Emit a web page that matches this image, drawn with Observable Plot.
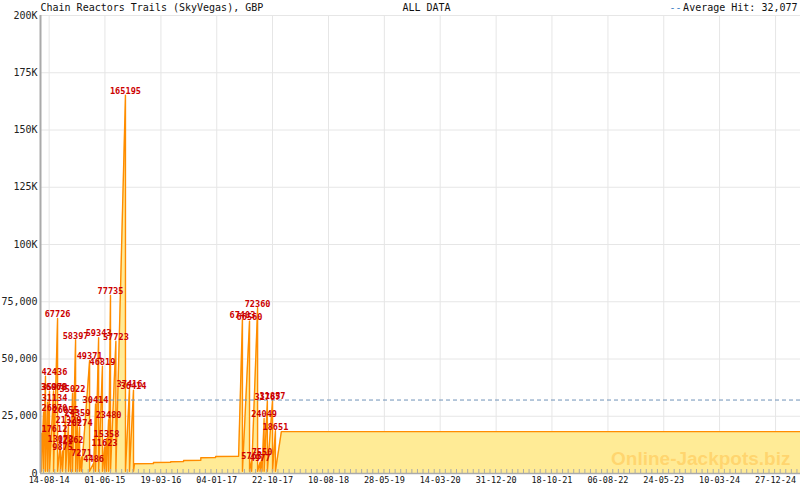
<!DOCTYPE html>
<html><head><meta charset="utf-8">
<script src="https://cdn.jsdelivr.net/npm/d3@7"></script>
<script src="https://cdn.jsdelivr.net/npm/@observablehq/plot@0.6"></script>
<style>
  html,body{margin:0;padding:0;background:#fff}
  #chart svg{display:block}
</style>
</head><body><div id="chart"></div>
<script>
// ---------- data ----------
const titleText = "Chain Reactors Trails (SkyVegas), GBP";
const periodText = "ALL DATA";
const averageLabel = "Average Hit: 32,077";
const averageHit = 32077;
const watermarkText = "Online-Jackpots.biz";

// jackpot hits (date, amount)
const hitDates = [
  "2014-07-05","2014-07-16","2014-07-26","2014-08-06","2014-08-16","2014-09-06","2014-09-27",
  "2014-10-12","2014-10-23","2014-11-08","2014-11-23","2014-12-04","2014-12-14","2014-12-30",
  "2015-01-09","2015-01-20","2015-01-30","2015-03-13","2015-04-03","2015-04-13","2015-04-29",
  "2015-05-19","2015-05-30","2015-06-09","2015-06-20","2015-06-30","2015-07-28","2015-09-16",
  "2015-10-07","2015-10-28",
  "2017-05-18","2017-06-24","2017-07-05","2017-08-05","2017-08-18","2017-08-28","2017-09-08",
  "2017-09-25","2017-10-22","2017-11-06"
];
const hitValues = [
  17612,26870,42436,31134,35978,36060,67726,
  13072,9875,26055,21329,12862,35022,58397,
  24359,20274,7271,49371,4486,30414,59343,
  46819,11623,15358,23480,77735,57723,165195,
  37416,36414,
  67403,66560,5765,72360,4977,7550,24049,
  31767,31857,18651
];
// level the jackpot restarts from after a hit
const seedValue = 1000;
// first recorded level
const startDate = "2014-06-30";
const startValue = 14000;
// slow-growth period with sparse records (2015-11 .. 2017-04)
const quietDates  = ["2015-11-02","2016-02-09","2016-02-09","2016-05-09","2016-05-09","2016-07-15","2016-07-15","2016-10-13","2016-10-13","2016-12-29","2016-12-29","2017-04-28"];
const quietValues = [4240,4300,4800,4900,5100,5200,5650,5800,6850,6950,7450,7550];
// last records (level frozen)
const tailDates  = ["2017-12-07","2025-05-06"];
const tailValues = [18300,18300];

// axes
const xDomain = ["2014-06-30","2025-05-06"];
const xTickDates = ["2014-08-14","2015-06-01","2016-03-19","2017-01-04","2017-10-22","2018-08-10","2019-05-28",
                    "2020-03-14","2020-12-31","2021-10-18","2022-08-06","2023-05-24","2024-03-10","2024-12-27"];
const yTicks = [0,25000,50000,75000,100000,125000,150000,175000,200000];
const yTickLabels = ["0","25,000","50,000","75,000","100K","125K","150K","175K","200K"];

// ---------- build ----------
const parse = s => new Date(s + "T00:00:00Z");
const hits = hitDates.map((d,i) => ({date: parse(d), value: hitValues[i]}));
let pts = [{date: parse(startDate), value: startValue}];
hits.forEach(h => { pts.push({date: h.date, value: h.value}); pts.push({date: h.date, value: seedValue}); });
quietDates.forEach((d,i) => pts.push({date: parse(d), value: quietValues[i]}));
tailDates.forEach((d,i) => pts.push({date: parse(d), value: tailValues[i]}));
pts = pts.map((p,i)=>({...p, k:i})).sort((a,b)=> (a.date - b.date) || (a.k - b.k));

const xd = xDomain.map(parse);
const majors = xTickDates.map(parse);
const step = (majors[1] - majors[0]) / 10;
const minors = [];
for (let t = +majors[0]; t >= +xd[0]; t -= step) minors.push(new Date(t));
for (let t = +majors[0] + step; t <= +xd[1]; t += step) minors.push(new Date(t));

const cutoff = parse("2014-08-25");
const edgeHits = hits.filter(h => h.date < cutoff);
const innerHits = hits.filter(h => h.date >= cutoff);

const mono = "'DejaVu Sans Mono', monospace";
const red = "#cc0000";

const chart = Plot.plot({
  width: 800, height: 490,
  marginLeft: 40, marginRight: 0, marginTop: 15, marginBottom: 17,
  style: {fontFamily: mono, fontSize: "10px", background: "#fff", overflow: "visible"},
  x: {type: "utc", domain: xd, axis: null},
  y: {domain: [0, 200000], axis: null},
  marks: [
    Plot.gridY(yTicks, {stroke: "#e6e6e6", strokeOpacity: 1}),
    Plot.gridX(majors, {stroke: "#e6e6e6", strokeOpacity: 1}),
    Plot.areaY(pts, {x: "date", y1: 0, y2: "value", fill: "#ffeb96", curve: "linear"}),
    Plot.lineY(pts, {x: "date", y: "value", stroke: "#ff8c00", strokeWidth: 1.4, curve: "linear"}),
    Plot.text([watermarkText], {frameAnchor: "bottom-right", textAnchor: "end", lineAnchor: "middle",
      dx: -10, dy: -15, fontFamily: "'Liberation Sans', Arial, sans-serif", fontWeight: "bold",
      fontSize: 19, fill: "#ffc34d", fillOpacity: 0.55}),
    Plot.ruleY([averageHit], {stroke: "#6f93b8", strokeDasharray: "4,3", strokeWidth: 1}),
    Plot.text(innerHits, {x: "date", y: "value", text: d => String(d.value), dy: -4,
      fill: red, fontSize: 8.6, fontWeight: "bold", fontFamily: mono}),
    Plot.text(edgeHits, {y: "value", text: d => String(d.value), frameAnchor: "left", textAnchor: "start",
      dx: 1, dy: -4, fill: red, fontSize: 8.6, fontWeight: "bold", fontFamily: mono}),
    Plot.tickX(minors, {stroke: "#aaa", insetTop: 454}),
    Plot.ruleY([0], {stroke: "#aaa", strokeWidth: 1.5}),
    Plot.ruleX([xd[0]], {stroke: "#aaa", strokeWidth: 2}),
    Plot.axisY(yTicks, {tickSize: 0, tickPadding: 3, tickFormat: v => yTickLabels[yTicks.indexOf(v)],
      fontSize: 10, fill: "#222", label: null}),
    Plot.axisX(majors, {tickSize: 0, tickPadding: 3, tickFormat: d3.utcFormat("%d-%m-%y"),
      fontSize: 8.5, fill: "#111", label: null}),
    Plot.text([titleText], {frameAnchor: "top-left", textAnchor: "start", lineAnchor: "middle", dy: -8, fill: "#111", fontSize: 10}),
    Plot.text([periodText], {frameAnchor: "top", textAnchor: "middle", lineAnchor: "middle", dx: 6, dy: -8, fill: "#111", fontSize: 10}),
    Plot.text([averageLabel], {frameAnchor: "top-right", textAnchor: "end", lineAnchor: "middle", dx: -3, dy: -8, fill: "#111", fontSize: 10}),
    Plot.text(["--"], {frameAnchor: "top-right", textAnchor: "end", lineAnchor: "middle", dx: -119, dy: -8, fill: "#3d85c6", fontSize: 10})
  ]
});
document.getElementById("chart").appendChild(chart);
</script>
</body></html>
